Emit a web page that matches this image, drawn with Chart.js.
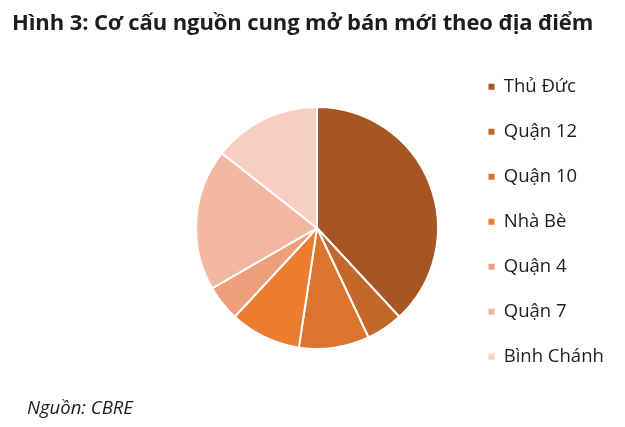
<!DOCTYPE html>
<html lang="vi">
<head>
<meta charset="UTF-8">
<title>Hình 3</title>
<script src="https://cdn.jsdelivr.net/npm/chart.js@4.4.1/dist/chart.umd.min.js"></script>
<style>
  html, body { margin: 0; padding: 0; background: #fff; }
  body { width: 625px; height: 427px; position: relative; overflow: hidden; font-family: "Open Sans", sans-serif; color: #1d1d1b; }
  .title { position: absolute; left: 12px; top: 6px; font-size: 22px; font-weight: 700; white-space: nowrap; letter-spacing: -0.1px; }
  .source { position: absolute; left: 27px; top: 394px; font-size: 18.5px; font-style: italic; }
  .wrap { position: absolute; left: 0; top: 0; width: 625px; height: 427px; }
</style>
</head>
<body>
<div class="wrap"><canvas id="chart"></canvas></div>
<div class="title">Hình 3: Cơ cấu nguồn cung mở bán mới theo địa điểm</div>
<div class="source">Nguồn: CBRE</div>
<script>
// ti trong (%) doc tu hinh
var khuVuc = ['Thủ Đức', 'Quận 12', 'Quận 10', 'Nhà Bè', 'Quận 4', 'Quận 7', 'Bình Chánh'];
var tyTrong = [38.1, 4.9, 9.4, 9.5, 4.8, 18.9, 14.4];
var mauSac = ['#A65622', '#C4672B', '#DA742E', '#ED7D31', '#EF9E7C', '#F3B8A3', '#F7CEC1'];

var fontSize = 18.5;
var legendPad = 26.5;
var boxW = 6;

// do rong chu de dat legend dung cho
var m = document.createElement('canvas').getContext('2d');
m.font = fontSize + 'px "Open Sans"';
var maxText = 0;
khuVuc.forEach(function(t) { maxText = Math.max(maxText, m.measureText(t).width); });
var legendW = legendPad + boxW + fontSize / 2 + maxText + 10;
var padRight = 625 - 462 - legendW;

var defaultLabels = Chart.overrides.pie.plugins.legend.labels.generateLabels;

var ctx = document.getElementById('chart').getContext('2d');
var chart = new Chart(ctx, {
  type: 'pie',
  data: {
    labels: khuVuc,
    datasets: [{
      data: tyTrong,
      backgroundColor: mauSac,
      borderColor: '#ffffff',
      borderWidth: 2,
      radius: 121
    }]
  },
  options: {
    responsive: true,
    maintainAspectRatio: false,
    animation: false,
    events: [],
    layout: {
      padding: { left: 172, right: padRight, top: 51, bottom: 22 }
    },
    plugins: {
      tooltip: { enabled: false },
      legend: {
        position: 'right',
        align: 'start',
        labels: {
          boxWidth: boxW,
          boxHeight: 6,
          padding: legendPad,
          color: '#1d1d1b',
          font: { family: '"Open Sans", sans-serif', size: fontSize },
          generateLabels: function(c) {
            var items = defaultLabels(c);
            items.forEach(function(it) { it.lineWidth = 0; it.strokeStyle = it.fillStyle; });
            return items;
          }
        }
      }
    }
  }
});
</script>
</body>
</html>
